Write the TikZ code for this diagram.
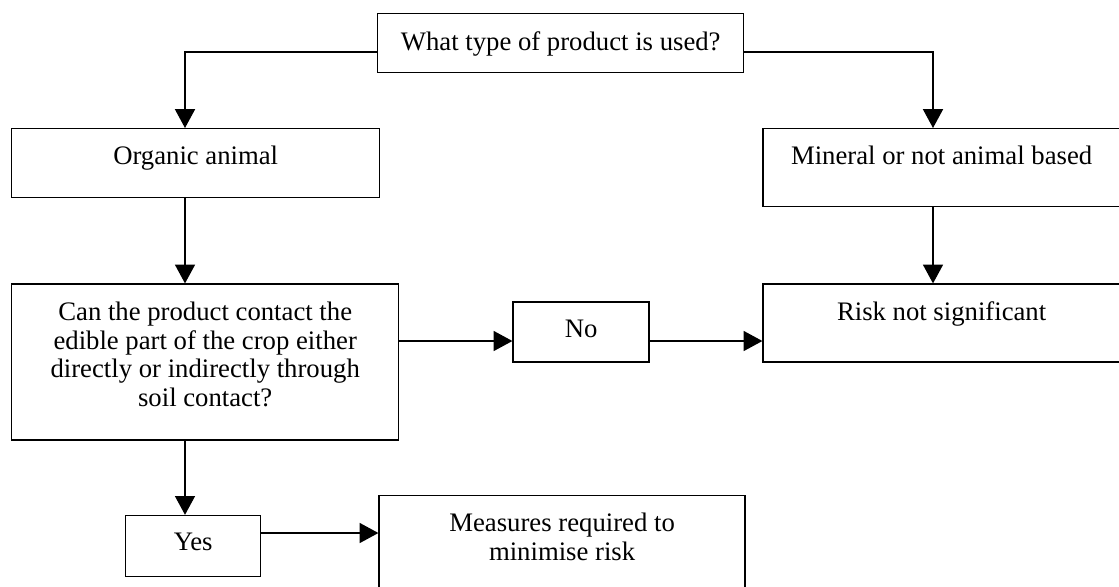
\documentclass[tikz,border=0pt]{standalone}
\usepackage{fontspec}
\setmainfont{Liberation Serif}
\usepackage{tikz}
\usetikzlibrary{arrows.meta,positioning}

\begin{document}
\begin{tikzpicture}[
    box/.style={rectangle, draw=black, line width=1pt, inner sep=0pt},
    txt/.style={anchor=north, yshift=-0.45cm, inner sep=0pt, align=center, font=\fontsize{19pt}{20.5pt}\selectfont},
    arrow/.style={-{Triangle[length=0.47cm, width=0.5cm]}, line width=1pt}
]
\useasboundingbox (0,0) rectangle (27.975,-14.65);
\node[box, anchor=north west, minimum width=9.15cm, minimum height=1.475cm,
    label={[txt]north:What type of product is used?}] (top) at (9.425,-0.325) {};
\node[box, anchor=north west, minimum width=9.2cm, minimum height=1.725cm,
    label={[txt]north:Organic animal}] (org) at (0.275,-3.2) {};
\node[box, right=9.55cm of org.north east, anchor=north west, minimum width=8.925cm, minimum height=1.95cm,
    label={[txt]north:Mineral or not animal based}] (min) {};
\node[box, below=2.125cm of org.south west, anchor=north west, minimum width=9.675cm, minimum height=3.9cm,
    label={[txt]north:Can the product contact the\\edible part of the crop either\\directly or indirectly through\\soil contact?}] (can) {};
\node[box, below=1.9cm of min, minimum width=8.925cm, minimum height=1.95cm,
    label={[txt]north:Risk not significant}] (risk) {};
\node[box, right=2.825cm of can.north east, anchor=north west, yshift=-0.45cm, minimum width=3.4cm, minimum height=1.5cm,
    label={[txt]north:No}] (no) {};
\node[box, below=1.85cm of can.south west, anchor=north west, xshift=2.85cm, minimum width=3.375cm, minimum height=1.525cm,
    label={[txt]north:Yes}] (yes) {};
\node[box, right=2.925cm of yes.north east, anchor=north west, yshift=0.5cm, minimum width=9.15cm, minimum height=2.5cm,
    label={[txt]north:Measures required to\\minimise risk}] (meas) {};

% connector columns and rows
\coordinate (lx) at (4.625,0);
\coordinate (rx) at (23.325,0);
\coordinate (ty) at (0,-1.3);
\coordinate (ny) at (0,-8.525);
\coordinate (yy) at (0,-13.325);

\draw[arrow] (top.west |- ty) -| (lx |- org.north);
\draw[arrow] (top.east |- ty) -| (rx |- min.north);
\draw[arrow] (lx |- org.south) -- (lx |- can.north);
\draw[arrow] (rx |- min.south) -- (rx |- risk.north);
\draw[arrow] (can.east |- ny) -- (no.west |- ny);
\draw[arrow] (no.east |- ny) -- (risk.west |- ny);
\draw[arrow] (lx |- can.south) -- (lx |- yes.north);
\draw[arrow] (yes.east |- yy) -- (meas.west |- yy);
\end{tikzpicture}
\end{document}
